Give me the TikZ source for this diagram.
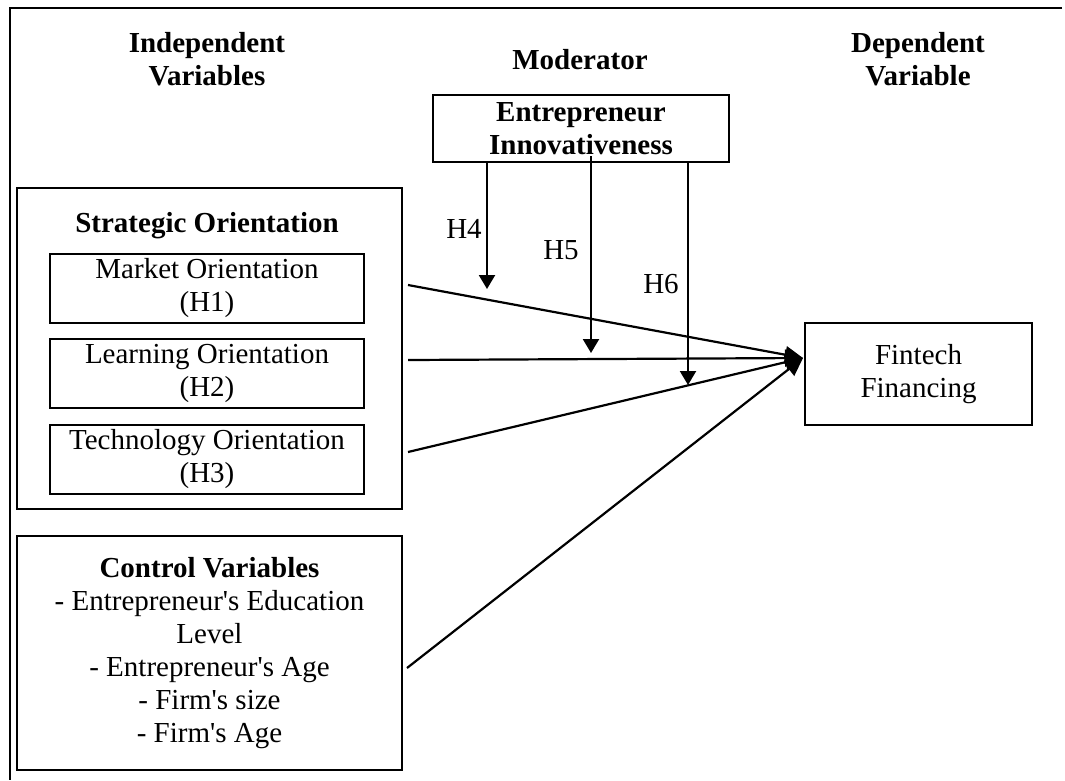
\documentclass[tikz,border=0pt]{standalone}
\usepackage{fontspec}
\setmainfont{Liberation Serif}
\usetikzlibrary{arrows.meta}

\begin{document}
\begin{tikzpicture}[x=1pt,y=-1pt,
  every node/.style={font=\fontsize{29}{33}\selectfont},
  titre/.style={font=\fontsize{29}{33}\selectfont\bfseries,align=center},
  boite/.style={draw,line width=2.2pt,align=center,inner sep=0pt},
  fleche/.style={line width=2.2pt,-{Triangle[length=18pt,width=17pt]}},
  modfleche/.style={line width=2.2pt,-{Triangle[length=14pt,width=16pt]}}]
\useasboundingbox (0,0) rectangle (1065,780);
\draw[line width=2.4pt] (1062,8) -- (10,8) -- (10,780); % cadre haut et gauche
% titres des colonnes
\node[titre] (indep) at (207,59) {Independent\\Variables};
\node[titre] (moder) at (580,60) {Moderator};
\node[titre] (dep) at (918,59) {Dependent\\Variable};
% modérateur
\node[boite,titre,minimum width=296pt,minimum height=67pt] (inno) at (581,128.5) {Entrepreneur\\Innovativeness};
% orientation stratégique
\node[boite,minimum width=385pt,minimum height=321pt] (strat) at (209.5,348.5) {};
\node[titre,anchor=base] (strattitre) at (207,232) {Strategic Orientation};
\node[boite,minimum width=314pt,minimum height=69pt] (mo) at (207,288.5) {Market Orientation\\(H1)};
\node[boite,minimum width=314pt,minimum height=69pt] (lo) at (207,373.5) {Learning Orientation\\(H2)};
\node[boite,minimum width=314pt,minimum height=69pt] (to) at (207,459.5) {Technology Orientation\\(H3)};
% variables de contrôle
\node[boite,minimum width=385pt,minimum height=234pt] (cv) at (209.5,653) {\textbf{Control Variables}\\- Entrepreneur\textquotesingle s Education\\Level\\- Entrepreneur\textquotesingle s Age\\- Firm\textquotesingle s size\\- Firm\textquotesingle s Age};
% variable dépendante
\node[boite,minimum width=227pt,minimum height=102pt] (fin) at (918.5,374) {Fintech\\Financing};
% flèches principales
\coordinate (cible) at (803,358);
\coordinate (dmo) at (408,285);
\coordinate (dlo) at (408,360);
\coordinate (dto) at (408,452);
\coordinate (dcv) at (407,668);
\draw[fleche] (dmo) -- (cible);
\draw[fleche] (dlo) -- (cible);
\draw[fleche] (dto) -- (cible);
\draw[fleche] (dcv) -- (cible);
% flèches du modérateur
\coordinate (h4) at (487,289);
\coordinate (h5) at (591,353);
\coordinate (h6) at (688,385);
\draw[modfleche] (inno.south -| h4) -- (h4);
\draw[modfleche] (inno.south -| h5) ++(0,-7) -- (h5);
\draw[modfleche] (inno.south -| h6) -- (h6);
\node (lh4) at (464,229) {H4};
\node (lh5) at (561,250) {H5};
\node (lh6) at (661,284.5) {H6};
\end{tikzpicture}
\end{document}
